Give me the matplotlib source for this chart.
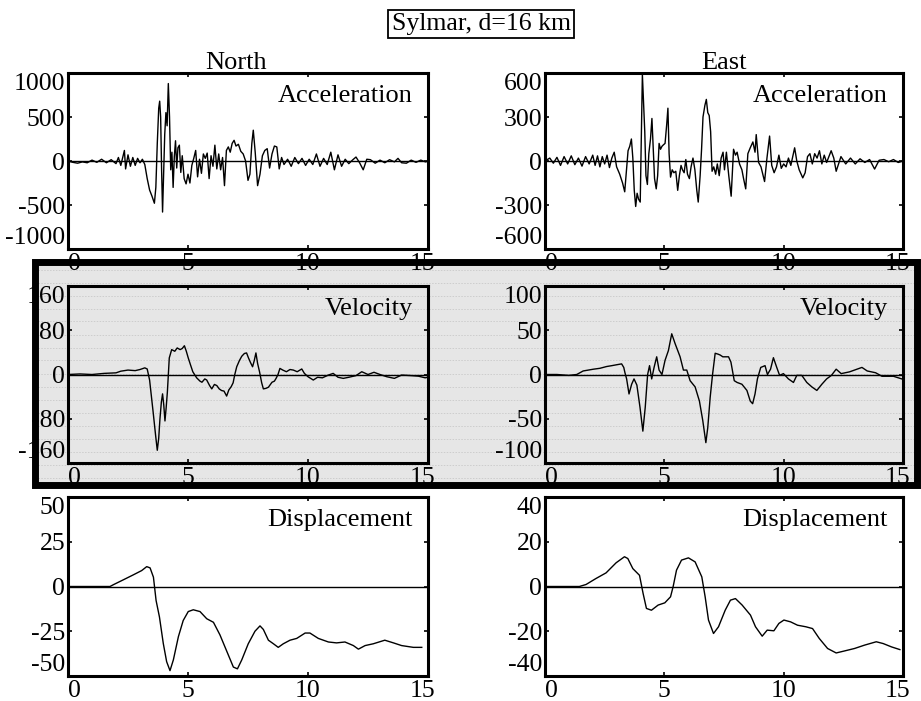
import matplotlib
matplotlib.use('Agg')
import matplotlib.pyplot as plt
from matplotlib.patches import Rectangle
from matplotlib.lines import Line2D
import matplotlib.transforms as mtransforms

plt.rcParams['font.family'] = ['Liberation Serif', 'DejaVu Serif']

# ---------------- data ----------------
# North acceleration
n_acc_t = [0.0, 0.2, 0.4, 0.6, 0.8, 1.0, 1.2, 1.4, 1.6, 1.8,
           2.0, 2.1, 2.2, 2.3, 2.35, 2.4, 2.5, 2.6, 2.7, 2.8,
           2.9, 3.0, 3.1, 3.2, 3.3, 3.4, 3.5, 3.6, 3.66, 3.72,
           3.78, 3.82, 3.86, 3.9, 3.94, 3.98, 4.03, 4.08, 4.13, 4.18,
           4.23, 4.28, 4.33, 4.38, 4.43, 4.48, 4.53, 4.58, 4.64, 4.7,
           4.76, 4.84, 4.92, 5.0, 5.08, 5.16, 5.24, 5.32, 5.4, 5.48,
           5.56, 5.64, 5.72, 5.8, 5.88, 5.96, 6.04, 6.12, 6.2, 6.28,
           6.36, 6.44, 6.52, 6.6, 6.68, 6.76, 6.84, 6.92, 7.0, 7.1,
           7.2, 7.3, 7.4, 7.5, 7.58, 7.66, 7.72, 7.8, 7.9, 8.0,
           8.1, 8.2, 8.3, 8.4, 8.5, 8.6, 8.7, 8.8, 8.9, 9.0,
           9.15, 9.3, 9.45, 9.6, 9.75, 9.9, 10.05, 10.2, 10.35, 10.5,
           10.65, 10.8, 10.95, 11.1, 11.25, 11.4, 11.55, 11.7, 11.85, 12.0,
           12.15, 12.3, 12.45, 12.6, 12.8, 13.0, 13.2, 13.4, 13.6, 13.75,
           13.9, 14.1, 14.3, 14.5, 14.7, 14.9, 15.0]
n_acc_v = [0, -15, -25, -10, -20, 10, -15, 20, -20, 15,
           -30, 40, -50, 60, 120, -90, 70, -60, 40, -50,
           30, -20, 20, -40, -200, -330, -400, -480, -300, 200,
           600, 680, 500, -100, -580, -200, 300, 550, 400, 880,
           500, -100, 100, -300, 50, 230, -80, 150, 180, -130,
           60, -200, -260, -150, -250, -50, 30, 120, -180, 20,
           -140, 80, 30, 90, -200, 60, -60, 180, -90, 80,
           -100, 40, -280, 120, 160, 100, 200, 235, 170, 190,
           110, 80, 0, -220, -150, 200, 350, 100, -280, -150,
           60, 120, 140, -80, 80, 170, 160, -90, 40, -40,
           20, -60, 40, -30, 30, -50, 20, -40, 80, -60,
           30, -40, 100, -100, 70, -60, 20, -30, 10, 45,
           -20, -100, 20, 15, -25, 10, -20, 15, -10, 30,
           -20, -25, 10, -15, 10, -10, 0]

# East acceleration
e_acc_t = [0.0, 0.2, 0.35, 0.5, 0.65, 0.8, 0.95, 1.1, 1.25, 1.4,
           1.55, 1.7, 1.85, 2.0, 2.1, 2.2, 2.3, 2.4, 2.5, 2.6,
           2.7, 2.8, 2.9, 3.0, 3.13, 3.25, 3.34, 3.42, 3.48, 3.55,
           3.62, 3.68, 3.74, 3.8, 3.86, 3.92, 3.99, 4.04, 4.08, 4.13,
           4.18, 4.23, 4.29, 4.35, 4.42, 4.48, 4.53, 4.59, 4.66, 4.72,
           4.78, 4.84, 4.9, 4.96, 5.03, 5.1, 5.15, 5.2, 5.26, 5.33,
           5.4, 5.48, 5.56, 5.63, 5.7, 5.76, 5.83, 5.9, 5.97, 6.05,
           6.12, 6.2, 6.28, 6.36, 6.42, 6.5, 6.56, 6.62, 6.7, 6.76,
           6.82, 6.88, 6.94, 7.0, 7.07, 7.15, 7.22, 7.3, 7.38, 7.46,
           7.52, 7.6, 7.7, 7.8, 7.9, 7.98, 8.05, 8.15, 8.25, 8.32,
           8.41, 8.5, 8.6, 8.71, 8.8, 8.85, 8.95, 9.05, 9.2, 9.3,
           9.41, 9.5, 9.6, 9.7, 9.8, 9.9, 10.0, 10.1, 10.2, 10.3,
           10.46, 10.55, 10.65, 10.8, 10.9, 11.0, 11.1, 11.2, 11.3, 11.4,
           11.5, 11.6, 11.7, 11.8, 11.99, 12.1, 12.2, 12.3, 12.4, 12.6,
           12.8, 13.0, 13.2, 13.4, 13.6, 13.81, 14.0, 14.2, 14.4, 14.6,
           14.8, 15.0]
e_acc_v = [0, 20, -15, 25, -30, 30, -20, 35, -25, 20,
           -35, 30, -20, 40, -30, 35, -40, 30, -20, 40,
           -45, 20, 60, -40, -90, -150, -210, -50, 70, 100,
           150, 20, -200, -310, -220, -260, -280, 200, 590, 400,
           200, -100, -160, 50, 150, 290, 100, -120, -190, -100,
           120, 80, 100, 110, 120, 250, 360, 50, -110, -60,
           -80, -70, -200, -100, -30, -60, -80, 10, -90, -120,
           -40, 20, -60, -200, -280, -100, 80, 300, 380, 420,
           330, 310, 200, -70, -40, -90, -20, -100, 20, 60,
           -60, 60, -100, -240, 80, 40, 60, -20, -60, -120,
           -190, 50, 90, 130, 60, 180, -10, -40, -140, 20,
           170, -30, -80, -40, 40, -50, -20, -40, 20, -30,
           90, 0, -60, -115, -80, 30, 50, -20, 50, 20,
           70, -20, 40, -10, 70, 20, -70, -20, 30, -20,
           20, -20, 15, -10, 10, -55, 5, 10, -5, 10,
           -10, 0]

# North velocity
n_vel_t = [0.0, 0.5, 1.0, 1.5, 2.0, 2.2, 2.5, 2.8, 3.0, 3.2,
           3.3, 3.4, 3.55, 3.65, 3.72, 3.78, 3.83, 3.89, 3.94, 3.99,
           4.04, 4.09, 4.14, 4.22, 4.32, 4.45, 4.55, 4.67, 4.76, 4.85,
           4.93, 5.01, 5.1, 5.2, 5.36, 5.5, 5.58, 5.7, 5.78, 5.9,
           5.99, 6.1, 6.2, 6.3, 6.4, 6.5, 6.61, 6.7, 6.8, 6.88,
           6.95, 7.03, 7.14, 7.24, 7.35, 7.44, 7.52, 7.6, 7.69, 7.76,
           7.83, 7.9, 7.98, 8.07, 8.14, 8.25, 8.35, 8.5, 8.6, 8.67,
           8.75, 8.83, 8.95, 9.1, 9.25, 9.39, 9.55, 9.74, 9.85, 10.0,
           10.22, 10.4, 10.6, 10.85, 11.05, 11.25, 11.47, 11.7, 12.0, 12.24,
           12.5, 12.75, 13.0, 13.28, 13.6, 13.9, 14.3, 14.6, 14.88, 15.0]
n_vel_v = [0, 1, 0, 2, 3, 6, 8, 7, 9, 12,
           10, -10, -69, -110, -137, -115, -81, -50, -35, -55,
           -84, -60, -32, 30, 45, 42, 48, 45, 47, 52,
           42, 30, 18, 5, -6, -12, -14, -8, -10, -20,
           -26, -18, -20, -26, -29, -30, -39, -28, -22, -15,
           0, 14, 25, 33, 38, 39, 30, 22, 14, 25,
           39, 20, 5, -15, -26, -25, -23, -14, -12, -7,
           0, 11, 8, 5, 9, 8, 5, 10, 2, -4,
           -10, -5, -6, -1, 2, -5, -7, -5, -2, 5,
           0, 4, 0, -4, -7, -1, -2, -3, -6, -5]

# East velocity
e_vel_t = [0.0, 0.5, 1.0, 1.33, 1.6, 2.03, 2.3, 2.58, 2.8, 3.0,
           3.21, 3.3, 3.35, 3.42, 3.52, 3.63, 3.73, 3.85, 3.98, 4.1,
           4.2, 4.3, 4.38, 4.47, 4.57, 4.68, 4.78, 4.9, 5.03, 5.17,
           5.31, 5.45, 5.66, 5.8, 5.94, 6.08, 6.29, 6.47, 6.61, 6.74,
           6.82, 6.92, 7.02, 7.13, 7.25, 7.34, 7.45, 7.55, 7.69, 7.79,
           7.93, 8.05, 8.25, 8.46, 8.6, 8.7, 8.8, 8.9, 9.04, 9.22,
           9.32, 9.45, 9.57, 9.71, 9.83, 9.99, 10.2, 10.41, 10.55, 10.76,
           10.97, 11.18, 11.39, 11.6, 11.8, 12.0, 12.2, 12.41, 12.76, 13.28,
           13.5, 13.85, 14.12, 14.6, 14.95]
e_vel_v = [0, 0, -1, 0, 4, 6, 7, 9, 10, 11,
           12, 8, 2, -5, -22, -11, -5, -12, -37, -64,
           -37, 0, 10, -5, 8, 20, 5, 0, 16, 27,
           46, 35, 20, 5, 5, -7, -14, -30, -52, -77,
           -60, -26, 0, 24, 23, 22, 20, 20, 20, 14,
           -7, -9, -11, -18, -30, -33, -22, -5, 8, 10,
           0, 6, 19, 8, -1, 1, -5, -9, -1, -1,
           -9, -14, -18, -11, -5, -1, 6, 1, 3, 8,
           4, 2, -2, -2, -5]

# North displacement
n_dis_t = [0.0, 1.0, 1.75, 1.89, 2.3, 2.72, 3.07, 3.28, 3.42, 3.56,
           3.67, 3.81, 3.97, 4.11, 4.25, 4.39, 4.6, 4.8, 5.01, 5.22,
           5.5, 5.78, 6.06, 6.33, 6.61, 6.89, 7.06, 7.24, 7.51, 7.79,
           8.0, 8.14, 8.35, 8.56, 8.76, 8.97, 9.25, 9.53, 9.88, 10.08,
           10.43, 10.85, 11.19, 11.54, 11.89, 12.1, 12.38, 12.72, 13.2, 13.56,
           13.9, 14.39, 14.74]
n_dis_v = [0, 0, 0, 1, 3.7, 6.5, 8.9, 11.1, 10.4, 5.2,
           -7.8, -17, -31.8, -42, -47, -41, -28, -19, -14, -13,
           -14, -18, -20, -27, -36, -45, -46, -41, -32, -25,
           -22, -24, -30, -32, -34, -32, -30, -29, -26, -26,
           -29, -31, -31.5, -31, -33, -35, -33, -32, -30, -31.5,
           -33, -34, -34]

# East displacement
e_dis_t = [0.0, 1.0, 1.44, 1.72, 2.14, 2.56, 2.98, 3.33, 3.47, 3.68,
           3.96, 4.11, 4.25, 4.46, 4.74, 5.02, 5.26, 5.37, 5.51, 5.72,
           6.01, 6.29, 6.57, 6.71, 6.85, 7.06, 7.27, 7.55, 7.77, 7.98,
           8.26, 8.61, 8.82, 9.1, 9.31, 9.59, 9.8, 10.01, 10.29, 10.58,
           10.93, 11.21, 11.49, 11.84, 12.2, 12.55, 12.97, 13.39, 13.88, 14.17,
           14.52, 14.87]
e_dis_v = [0, 0, 0, 0.9, 3.6, 6.1, 10.6, 13.3, 12.5, 8.0,
           5.0, -3.1, -9.8, -10.6, -8.3, -7.3, -4.6, 0, 7.3, 11.8,
           12.8, 11.0, 4.3, -4.6, -15, -21, -18, -10.6, -6.1, -5.4,
           -8.3, -12.8, -18, -22.2, -19.5, -19.8, -16.5, -15, -15.8, -17.3,
           -18, -18.8, -23.2, -27.7, -29.7, -28.8, -27.7, -26.2, -24.7, -25.5,
           -27, -28.2]

column_titles = ['North', 'East']
row_labels = ['Acceleration', 'Velocity', 'Displacement']
x_ticks = [0, 5, 10, 15]
y_ticks = [
    ([-1000, -500, 0, 500, 1000], [-600, -300, 0, 300, 600]),
    ([-160, -80, 0, 80, 160], [-100, -50, 0, 50, 100]),
    ([-50, -25, 0, 25, 50], [-40, -20, 0, 20, 40]),
]
series = [
    ((n_acc_t, n_acc_v), (e_acc_t, e_acc_v)),
    ((n_vel_t, n_vel_v), (e_vel_t, e_vel_v)),
    ((n_dis_t, n_dis_v), (e_dis_t, e_dis_v)),
]
title = 'Sylmar, d=16 km'

# ---------------- layout ----------------
W, H = 921, 701
fig = plt.figure(figsize=(W / 100, H / 100), dpi=100)
fig.patch.set_facecolor('white')

def frac(l, t, r, b):
    return [l / W, 1 - b / H, (r - l) / W, (b - t) / H]

cols = [(68, 428), (545, 903)]
rows = [(73, 249), (286, 463), (497, 676)]

# gray screened band behind the velocity row
box_l, box_t, box_r, box_b = 35, 261.5, 917, 485
fig.add_artist(Rectangle((box_l / W, 1 - box_b / H), (box_r - box_l) / W,
                         (box_b - box_t) / H, transform=fig.transFigure,
                         facecolor='#e6e6e6', edgecolor='none', zorder=-5))
yy = box_t + 8
while yy < box_b - 3:
    fig.add_artist(Line2D([box_l / W, box_r / W], [1 - yy / H, 1 - yy / H],
                          transform=fig.transFigure, color='#cdcdcd', lw=0.7,
                          linestyle=(0, (1.5, 1.5)), zorder=-4))
    yy += 13

for r, (top, bot) in enumerate(rows):
    for c, (left, right) in enumerate(cols):
        ax = fig.add_axes(frac(left, top, right, bot))
        if r == 1:
            ax.set_facecolor('none')
        t, v = series[r][c]
        ax.plot(t, v, color='black', lw=1.0)
        ax.axhline(0, color='black', lw=1.0)
        yt = y_ticks[r][c]
        ax.set_xlim(0, 15)
        ax.set_ylim(yt[0], yt[-1])
        ax.set_xticks(x_ticks)
        ax.set_yticks(yt)
        ax.set_yticklabels([str(v_) for v_ in yt])
        ax.tick_params(direction='in', length=3, width=1.2, top=True, right=True,
                       labelsize=18.5)
        ax.tick_params(axis='y', pad=2)
        ax.tick_params(axis='x', pad=3)
        for s in ax.spines.values():
            s.set_linewidth(2.2)
        yticks_obj = ax.yaxis.get_major_ticks()
        yticks_obj[0].label1.set_va('bottom')
        yticks_obj[-1].label1.set_va('top')
        xticks_obj = ax.xaxis.get_major_ticks()
        xticks_obj[0].label1.set_ha('left')
        lab15 = xticks_obj[-1].label1
        lab15.set_transform(lab15.get_transform() +
                            mtransforms.ScaledTranslation(-6 / 100, 0, fig.dpi_scale_trans))
        ax.text(1 - 15 / (right - left), 1 - 12 / (bot - top), row_labels[r],
                transform=ax.transAxes, ha='right', va='top', fontsize=19)

# thick frame on top
fig.add_artist(Rectangle((box_l / W, 1 - box_b / H), (box_r - box_l) / W,
                         (box_b - box_t) / H, transform=fig.transFigure,
                         facecolor='none', edgecolor='black', lw=5, zorder=10))

fig.text(236 / W, 1 - 69 / H, column_titles[0], ha='center', va='baseline', fontsize=19)
fig.text(724 / W, 1 - 69 / H, column_titles[1], ha='center', va='baseline', fontsize=19)
fig.text(481 / W, 1 - 24 / H, title, ha='center', va='center', fontsize=18.5,
         bbox=dict(boxstyle='square,pad=0.12', facecolor='white', edgecolor='black', lw=1.3))

fig.savefig('out.png', dpi=100)
